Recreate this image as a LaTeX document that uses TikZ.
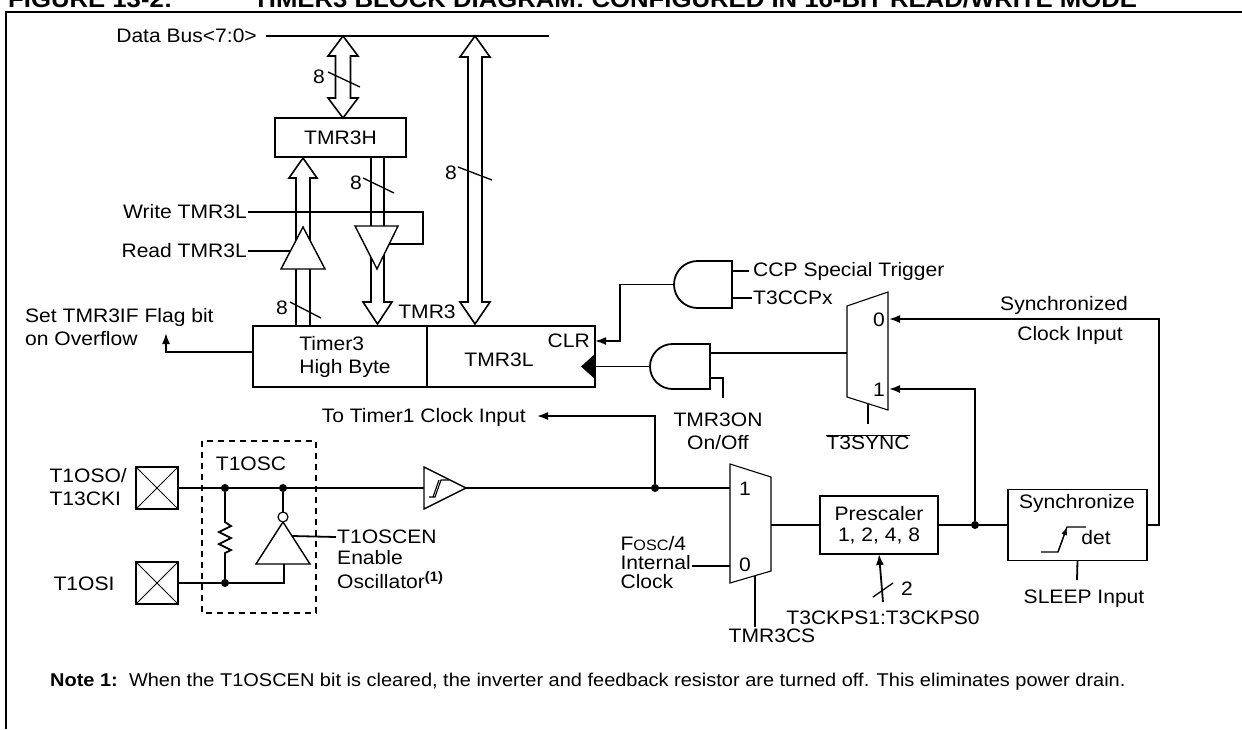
\documentclass[tikz,border=0pt]{standalone}
\usepackage{fontspec}
\setmainfont{Liberation Sans}[FakeStretch=1.08]
\usetikzlibrary{positioning}
\usetikzlibrary{arrows.meta}
\usetikzlibrary{calc}
\newcommand{\diagfont}{\fontsize{19.5}{23}\selectfont}
\newcommand{\notefont}{\fontsize{18.5}{22}\selectfont}
\newcommand{\capfont}{\fontsize{23.8}{28}\selectfont\bfseries}

\begin{document}
\begin{tikzpicture}[x=1pt, y=-1pt,
    wire/.style={line width=1.8pt},
    thinwire/.style={line width=1.1pt},
    bus/.style={line width=1.6pt, fill=white},
    buf/.style={line width=1.4pt, fill=white},
    reg/.style={draw, line width=1.8pt, inner sep=0pt, outer sep=0pt, font=\diagfont},
    txt/.style={font=\diagfont, inner sep=1pt},
    pinbox/.style={draw, line width=1.6pt, minimum size=42pt, inner sep=0pt,
        path picture={\draw[line width=1pt] (path picture bounding box.south west) -- (path picture bounding box.north east)
            (path picture bounding box.north west) -- (path picture bounding box.south east);}},
    jdot/.style={circle, fill, inner sep=0pt, minimum size=8pt},
    arr/.style={-{Latex[length=11pt,width=8pt]}}]

  \useasboundingbox (0,0) rectangle (1242,729);

  % caption (cut by the page edge) and frame
  \node[font=\capfont, anchor=base west, inner sep=0pt] (figno) at (8,7) {FIGURE 13-2:};
  \node[font=\capfont, anchor=base west, inner sep=0pt] (figtitle) at (253,7) {TIMER3 BLOCK DIAGRAM: CONFIGURED IN 16-BIT READ/WRITE MODE};
  \draw[line width=2.4pt] (6,729) -- (6,12) -- (1242,12);

  % data bus
  \node[txt, anchor=east] (dbus) at (258,36) {Data Bus<7:0>};
  \coordinate (dbl) at (266,36);
  \coordinate (dbr) at (549,36);
  \draw[wire] (dbl) -- (dbr);

  % 8-bit buses
  \draw[bus] (335.5,56) -- (335.5,98) -- (328,98) -- (343,118) -- (358,98) -- (350.5,98) -- (350.5,56) -- (358,56) -- (343,36) -- (328,56) -- cycle;
  \draw[bus] (468,57) -- (468,302) -- (460,302) -- (475,324) -- (490,302) -- (482,302) -- (482,57) -- (490,57) -- (475,36) -- (460,57) -- cycle;
  \draw[bus] (296,326) -- (296,178) -- (289,178) -- (303,158) -- (317,178) -- (310,178) -- (310,326);
  \draw[bus] (371,157) -- (371,302) -- (363,302) -- (377.5,324) -- (392,302) -- (384,302) -- (384,157);

  \node[reg, minimum width=131pt, minimum height=39pt] (tmr3h) at (340.5,137.5) {TMR3H};

  % read / write buffers
  \draw[buf] (281,269) -- (325,269) -- (303,227) -- cycle;
  \draw[buf] (355,226) -- (398,226) -- (377,269) -- cycle;
  \node[txt, anchor=east] (wrl) at (248,212) {Write TMR3L};
  \node[txt, anchor=east] (rdl) at (248,251) {Read TMR3L};
  \draw[wire] (wrl.east) -- (423,212) -- (423,244) -- (389,244);
  \draw[wire] (rdl.east) -- (290,251);

  % bus widths
  \node[txt] (w8a) at (319,77) {8};
  \draw[line width=1.3pt] (328,72) -- (360,87);
  \node[txt] (w8b) at (356,183) {8};
  \draw[line width=1.3pt] (363,178) -- (394,193);
  \node[txt] (w8c) at (451,173) {8};
  \draw[line width=1.3pt] (458,167) -- (492,180);
  \node[txt] (w8d) at (282,308) {8};
  \draw[line width=1.3pt] (290,302) -- (321,318);

  % TMR3 register pair
  \node[reg, minimum width=174pt, minimum height=61pt] (tmr3hb) at (340,356.5) {};
  \node[reg, minimum width=168pt, minimum height=61pt, right=0pt of tmr3hb] (tmr3lb) {};
  \node[txt, align=left] (hbl) at (345,356.5) {Timer3\\High Byte};
  \node[txt] (lbl) at (499,360) {TMR3L};
  \node[txt, anchor=east] (clr) at (591,341) {CLR};
  \node[txt] (tmr3) at (427,312) {TMR3};

  % overflow flag
  \node[txt, align=left, anchor=west] (ovf) at (24,327) {Set TMR3IF Flag bit\\on Overflow};
  \coordinate (ovfout) at (253,352);
  \draw[wire, arr] (ovfout) -- (166,352) -- (166,333);

  % clear gate
  \draw[wire] (732,261) -- (697.5,261) arc[start angle=90, end angle=270, radius=23.5pt] -- (732,308) -- cycle;
  \coordinate (g1a) at (732,271);
  \coordinate (g1b) at (732,298);
  \coordinate (g1o) at (674,284.5);
  \node[txt, anchor=west, inner sep=4pt] (ccp) at (749,271) {CCP Special Trigger};
  \node[txt, anchor=west, inner sep=1pt] (t3ccp) at (752,298) {T3CCPx};
  \draw[wire] (g1a) -- (ccp.west);
  \draw[wire] (g1b) -- (t3ccp.west);
  \coordinate (clrin) at (595,341);
  \draw[wire, arr] (g1o) -- (620,284.5) -- (620,341) -- (clrin);

  % clock gate
  \draw[wire] (710,344) -- (672.5,344) arc[start angle=90, end angle=270, radius=22.5pt] -- (710,389) -- cycle;
  \coordinate (g2a) at (710,353);
  \coordinate (g2b) at (710,378);
  \coordinate (g2o) at (650,366.5);
  \draw[wire] (g2o) -- (tmr3lb.east |- g2o);
  \fill ($(tmr3lb.east |- g2o)+(0,-12.5)$) -- ++(0,25) -- ++(-14,-12.5) -- cycle;
  \coordinate (onoff) at (723,398);
  \draw[wire] (g2b) -- (723,378) -- (onoff);
  \node[txt, align=center] (tmr3on) at (718,431) {TMR3ON\\On/Off};

  % sync select mux
  \draw[thinwire] (847,306) -- (888,292) -- (888,410) -- (847,397) -- cycle;
  \coordinate (m1in) at (847,353);
  \coordinate (m1s0) at (889,319);
  \coordinate (m1s1) at (889,389);
  \coordinate (m1sel) at (868,404);
  \node[txt, anchor=east] (m1zero) at (886,320) {0};
  \node[txt, anchor=east] (m1one) at (886,390) {1};
  \draw[wire] (g2a) -- (m1in);
  \coordinate (syncsel) at (868,424);
  \draw[wire] (m1sel) -- (syncsel);
  \node[txt] (t3sync) at (868,442) {$\overline{\hbox{T3SYNC}}$};

  % oscillator pins
  \node[pinbox] (pso) at (157,488) {};
  \node[pinbox] (psi) at (157,583) {};
  \node[txt, align=left, anchor=east] (psol) at (128,487) {T1OSO/\\T13CKI};
  \node[txt] (psil) at (84,584) {T1OSI};

  % T1OSC
  \draw[line width=1.4pt, dash pattern=on 6pt off 5pt] (202,441) rectangle (316,613);
  \node[txt] (oscl) at (251,464) {T1OSC};
  \node[jdot] (ja) at (225,488) {};
  \node[jdot] (jb) at (283,488) {};
  \node[jdot] (jc) at (225,583) {};
  \draw[wire] (ja) -- (225,522) -- (231,526) -- (219,532) -- (231,538) -- (219,544) -- (231,550) -- (225,553) -- (jc);
  \draw[buf] (256,564) -- (310,564) -- (283,522) -- cycle;
  \draw[line width=1.2pt, fill=white] (283,517) circle[radius=5pt];
  \draw[wire] (jb) -- (283,512);
  \draw[wire] (psi.east) -- (jc) -- (284,583) -- (284,564);
  \node[txt, anchor=west] (oscen) at (336,537) {T1OSCEN};
  \draw[wire] (292,536) -- (oscen.west);
  \node[txt, anchor=west] (enl) at (336,558) {Enable};
  \node[txt, anchor=west] (oscnote) at (336,580) {Oscillator\textsuperscript{\textbf{(1)}}};

  % schmitt buffer and clock path
  \draw[buf] (424,467) -- (424,509) -- (466,488) -- cycle;
  \draw[line width=1.1pt] (429,497) -- (435,497) -- (441,480) -- (449,480);
  \draw[line width=1.1pt] (433,497) -- (439,480);
  \node[jdot] (jd) at (655,488) {};
  \draw[wire] (pso.east) -- (424,488);
  \draw[wire] (466,488) -- (730,488);
  \node[txt, anchor=east] (t1clk) at (527,417) {To Timer1 Clock Input};
  \draw[wire, arr] (jd) -- (655,416) -- (537,416);

  % clock source mux
  \draw[thinwire] (730,464) -- (771,477) -- (771,571) -- (730,583) -- cycle;
  \node[txt, anchor=west] (m2one) at (738,489) {1};
  \node[txt, anchor=west] (m2zero) at (738,565) {0};
  \node[font=\fontsize{19.5}{19}\selectfont, inner sep=1pt, align=left, anchor=east] (fosc) at (692,563) {F{\fontsize{15}{19}\selectfont OSC}/4\\Internal\\Clock};
  \draw[wire] (fosc.east |- 0,566) -- (730,566);
  \coordinate (m2sel) at (755,576);
  \coordinate (m2out) at (771,525);
  \node[txt, anchor=north] (tmr3cs) at (772,628) {TMR3CS};
  \draw[wire] (m2sel) -- (755,627);

  % prescaler and synchronizer
  \node[reg, minimum width=118pt, minimum height=58pt, align=center, font=\fontsize{19.5}{21}\selectfont] (presc) at (879,525) {Prescaler\\1, 2, 4, 8};
  \node[reg, minimum width=139pt, minimum height=71pt] (sync) at (1077.5,525) {};
  \node[txt] (syncl) at (1077,503) {Synchronize};
  \node[txt] (detl) at (1096,538) {det};
  \draw[line width=1.2pt] (1041,552) -- (1058,552) -- (1067,527) -- (1086,527);
  \draw[line width=1.2pt, -{Latex[length=8pt,width=6pt]}] (1058,552) -- (1067,527);
  \draw[wire] (m2out) -- (presc.west);
  \node[jdot] (je) at (975,525) {};
  \draw[wire] (presc.east) -- (sync.west);
  \draw[wire, arr] (je) -- (975,389) -- (m1s1);
  \draw[wire, arr] (sync.east) -- (1159,525) -- (1159,319) -- (m1s0);
  \node[txt] (syncd) at (1064,305) {Synchronized};
  \node[txt] (clkin) at (1070,335) {Clock Input};
  \coordinate (sleep) at (1077,580);
  \draw[wire] (sync.south) -- (sleep);
  \node[txt] (sleepl) at (1084,599) {SLEEP Input};

  % prescaler select
  \coordinate (pssel) at (883,602);
  \draw[wire, arr] (pssel) -- (presc.south);
  \draw[line width=1.3pt] (873,597) -- (893,583);
  \node[txt] (w2) at (907,589) {2};
  \node[txt] (pssell) at (883,618) {T3CKPS1:T3CKPS0};

  % note
  \node[font=\notefont, anchor=base west, inner sep=0pt] (note) at (50,686) {\textbf{Note 1:}\hspace{0.6em}When the T1OSCEN bit is cleared, the inverter and feedback resistor are turned off. This eliminates power drain.};
\end{tikzpicture}
\end{document}
